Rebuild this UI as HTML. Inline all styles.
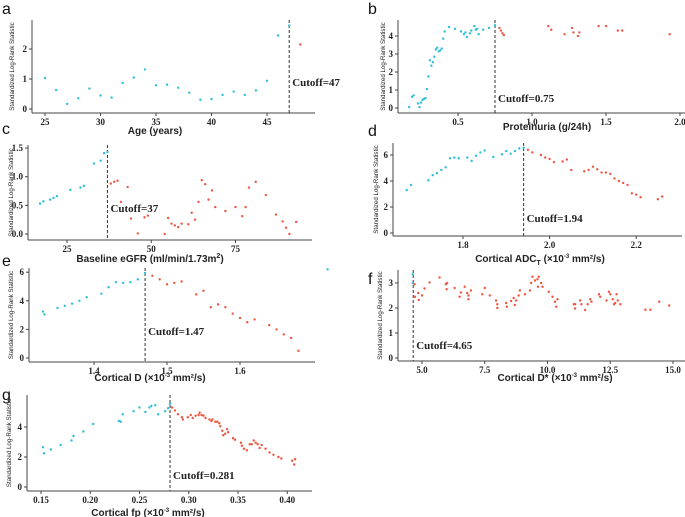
<!DOCTYPE html>
<html><head><meta charset="utf-8"><style>
body{margin:0;background:#fff;width:685px;height:517px;overflow:hidden}
svg{display:block}
.tk{font-family:"Liberation Serif",serif;font-weight:bold;font-size:9px;fill:#222}
.xt{font-family:"Liberation Sans",sans-serif;font-weight:bold;font-size:10px;fill:#222}
.yt{font-family:"Liberation Sans",sans-serif;font-size:6.2px;fill:#222}
.co{font-family:"Liberation Serif",serif;font-weight:bold;font-size:11px;fill:#222}
.pl{font-family:"Liberation Sans",sans-serif;font-size:16px;fill:#111}
</style></head><body>
<svg id="chart" width="685" height="517"></svg>
<script>
// Panel a
const aBlueX=[25,26,27,28,29,30,31,32,33,34,35,36,37,38,39,40,41,42,43,44,45,46,47];
const aBlueY=[1.03,0.63,0.17,0.36,0.68,0.45,0.38,0.87,1.05,1.32,0.79,0.81,0.71,0.54,0.31,0.33,0.47,0.58,0.47,0.62,0.94,2.45,2.78];
const aRedX=[48];
const aRedY=[2.15];
const aXTicks=[25,30,35,40,45];
const aYTicks=[0,1,2];
// Panel b
const bBlueX=[0.17,0.19,0.2,0.23,0.24,0.25,0.26,0.27,0.28,0.29,0.30,0.31,0.32,0.33,0.34,0.35,0.36,0.37,0.38,0.39,0.40,0.41,0.44,0.48,0.52,0.54,0.55,0.56,0.58,0.59,0.61,0.62,0.63,0.64,0.67,0.71,0.75];
const bBlueY=[0.05,0.62,0.7,0.25,0.05,0.3,0.45,0.5,0.55,1.05,1.75,2.65,2.35,2.55,2.85,3.25,3.35,3.15,3.2,3.3,3.85,4.25,4.5,4.4,4.25,4.1,4.2,3.95,4.15,4.3,4.55,4.35,4.4,4.1,4.35,4.45,4.6];
const bRedX=[0.78,0.79,0.8,0.81,1.11,1.13,1.22,1.27,1.28,1.31,1.32,1.45,1.5,1.58,1.61,1.93];
const bRedY=[4.45,4.3,4.15,4.05,4.55,4.35,4.1,4.45,4.2,4.0,4.2,4.55,4.55,4.3,4.3,4.1];
const bXTicks=[0.5,1.0,1.5,2.0];
const bYTicks=[0,1,2,3,4];
// Panel c
const cBlueX=[17,18,20,21,22,26,29,30,33,35,36,37];
const cBlueY=[0.53,0.57,0.6,0.63,0.66,0.77,0.81,0.84,1.23,1.28,1.41,1.43];
const cRedX=[38,39,40,41,43,44,46,48,49,54,55,56,57,58,59,61,62,63,64,65,66,67,68,69,72,75,77,78,79,81,84,87,89,90,91,93];
const cRedY=[0.88,0.91,0.93,0.56,0.82,0.27,0.01,0.29,0.32,0.0,0.28,0.18,0.15,0.12,0.18,0.17,0.37,0.25,0.56,0.94,0.87,0.6,0.76,0.47,0.4,0.47,0.31,0.47,0.81,0.91,0.68,0.34,0.22,0.11,0.0,0.21];
const cXTicks=[25,50,75];
const cYTicks=[0,0.5,1.0,1.5];
// Panel d
const dBlueX=[1.67,1.68,1.72,1.73,1.74,1.75,1.76,1.77,1.78,1.79,1.81,1.82,1.83,1.84,1.85,1.87,1.89,1.9,1.91,1.92,1.93,1.94];
const dBlueY=[3.3,3.7,4.05,4.45,4.6,4.85,5.05,5.75,5.8,5.75,5.8,5.55,5.95,6.2,6.35,5.85,6.05,6.3,6.1,6.3,6.5,6.55];
const dRedX=[1.95,1.96,1.98,1.99,2.0,2.01,2.03,2.04,2.05,2.08,2.09,2.1,2.11,2.12,2.13,2.14,2.15,2.16,2.17,2.18,2.19,2.2,2.21,2.25,2.26];
const dRedY=[6.4,6.2,6.0,5.8,5.7,5.45,5.5,5.65,4.85,4.75,4.85,5.1,4.9,4.65,4.65,4.55,4.2,4.0,3.85,3.7,3.05,2.95,2.75,2.6,2.8];
const dXTicks=[1.8,2.0,2.2];
const dYTicks=[0,2,4,6];
// Panel e
const eBlueX=[1.33,1.332,1.35,1.36,1.37,1.38,1.39,1.41,1.42,1.43,1.44,1.45,1.46,1.47,1.72];
const eBlueY=[3.25,3.05,3.5,3.65,3.8,4.0,4.25,4.5,4.95,5.3,5.25,5.3,5.5,5.95,6.2];
const eRedX=[1.48,1.49,1.5,1.51,1.52,1.54,1.55,1.56,1.57,1.58,1.59,1.6,1.61,1.62,1.64,1.65,1.66,1.67,1.68];
const eRedY=[5.75,5.5,5.15,5.25,5.35,4.45,4.7,3.55,3.75,3.55,3.1,2.8,2.5,2.7,2.3,2.0,1.65,1.4,0.5];
const eXTicks=[1.4,1.5,1.6];
const eYTicks=[0,2,4,6];
// Panel f
const fBlueX=[4.63,4.63];
const fBlueY=[3.35,3.0];
const fRedX=[4.7,4.72,4.85,4.87,5.0,5.1,5.3,5.7,5.95,6.0,5.98,6.3,6.5,6.55,6.7,6.8,6.85,6.85,6.95,7.4,7.5,7.7,7.95,8.0,8.0,8.35,8.38,8.55,8.65,8.7,8.75,8.85,8.9,9.1,9.3,9.35,9.4,9.5,9.6,9.65,9.62,9.75,9.8,10.05,10.2,10.3,10.35,10.4,11.05,11.1,11.1,11.3,11.35,11.5,11.6,11.7,11.75,12.05,12.1,12.35,12.45,12.5,12.6,12.65,12.7,12.75,12.8,12.9,13.9,14.1,14.45,14.85];
const fRedY=[2.95,2.45,2.6,2.32,2.5,2.78,3.02,3.22,2.95,3.0,2.75,2.8,2.45,2.62,2.85,2.6,2.5,2.35,2.7,2.55,2.8,2.5,2.3,2.15,2.0,2.2,2.05,2.28,2.4,2.12,2.3,2.5,2.7,2.55,2.7,3.0,3.25,3.1,3.15,3.25,2.85,3.0,2.85,2.65,2.45,2.25,2.05,2.35,2.15,2.15,1.98,2.3,2.15,1.92,2.15,2.35,2.25,2.55,2.45,2.3,2.65,2.55,2.35,2.15,2.2,2.55,2.3,2.15,1.93,1.93,2.25,2.1];
const fXTicks=[5.0,7.5,10.0,12.5,15.0];
const fYTicks=[0,1,2,3];
// Panel g
const gBlueX=[0.152,0.153,0.16,0.17,0.181,0.183,0.193,0.203,0.229,0.231,0.233,0.244,0.25,0.256,0.26,0.262,0.266,0.269,0.276,0.279,0.281];
const gBlueY=[2.65,2.25,2.5,2.8,3.1,3.4,3.7,4.2,4.4,4.35,4.85,5.05,5.3,5.0,5.3,5.4,5.45,4.85,5.05,5.25,5.55];
const gRedX=[0.283,0.286,0.289,0.293,0.294,0.299,0.302,0.304,0.307,0.31,0.311,0.313,0.315,0.317,0.321,0.323,0.324,0.327,0.329,0.331,0.332,0.334,0.335,0.337,0.339,0.34,0.345,0.347,0.353,0.354,0.356,0.359,0.362,0.364,0.366,0.368,0.37,0.372,0.374,0.378,0.382,0.386,0.391,0.394,0.405,0.407,0.408];
const gRedY=[5.3,5.1,4.85,4.65,4.5,4.65,4.8,4.6,4.75,4.8,4.95,4.8,4.75,4.6,4.5,4.4,4.5,4.35,4.35,4.25,4.05,3.75,3.45,3.55,3.85,3.65,3.25,3.15,2.95,2.75,2.55,2.45,2.85,2.85,3.1,2.95,2.85,2.6,2.8,2.55,2.3,2.15,2.0,1.9,1.75,1.5,1.85];
const gXTicks=[0.15,0.20,0.25,0.30,0.35,0.40];
const gYTicks=[0,2,4];

const svg=document.getElementById('chart');
const NS='http://www.w3.org/2000/svg';
function mk(tag,attrs,parent,txt){const e=document.createElementNS(NS,tag);for(const k in attrs)e.setAttribute(k,attrs[k]);if(txt!==undefined)e.textContent=txt;(parent||svg).appendChild(e);return e;}

function panel(p){
  const g=mk('g',{});
  
  
  const sx=v=>p.x0px+(v-p.x0v)*p.xs;
  const sy=v=>p.y0px-(v-p.y0v)*p.ys;
  const lbl=mk('text',{x:p.lx,y:p.ly,class:'pl'},g,p.id);
  
  
  const ya=mk('line',{x1:p.ax,y1:p.top,x2:p.ax,y2:p.ay,stroke:'#444','stroke-width':1},g);
  
  
  const xa=mk('line',{x1:p.ax,y1:p.ay,x2:p.right,y2:p.ay,stroke:'#444','stroke-width':1},g);
  
  
  p.xt.forEach(v=>{const x=sx(v);
    mk('line',{x1:x,y1:p.ay,x2:x,y2:p.ay+3,stroke:'#444'},g);
    const t=mk('text',{x:x,y:p.ay+12,class:'tk','text-anchor':'middle'},g,v.toFixed(p.xd));
    
    });
  p.yt.forEach(v=>{const y=sy(v);
    mk('line',{x1:p.ax-3,y1:y,x2:p.ax,y2:y,stroke:'#444'},g);
    const t=mk('text',{x:p.ax-5,y:y+3,class:'tk','text-anchor':'end'},g,v.toFixed(p.yd));
    
    });
  const cx=sx(p.cut);
  const cl=mk('line',{x1:cx,y1:p.top,x2:cx,y2:p.ay,stroke:'#333','stroke-width':1,'stroke-dasharray':'3,2'},g);
  
  
  const ct=mk('text',{x:cx+3,y:p.cy,class:'co'},g,'Cutoff='+p.cutTxt);
  
  
  p.bx.forEach((v,i)=>{const c=mk('circle',{cx:sx(v),cy:sy(p.by[i]),r:1.2,fill:'#2bbfd8'},g);
    
    });
  p.rx.forEach((v,i)=>{const c=mk('circle',{cx:sx(v),cy:sy(p.ry[i]),r:1.2,fill:'#f0553f'},g);
    
    });
  const xt=mk('text',{x:p.tx,y:p.ty,class:'xt','text-anchor':'middle'},g);
  xt.innerHTML=p.title;
  
  
  const ym=(p.top+p.ay)/2;
  const yt=mk('text',{x:p.ax-p.ytOff,y:ym,class:'yt','text-anchor':'middle',transform:`rotate(-90 ${p.ax-p.ytOff} ${ym})`},g,'Standardized Log-Rank Statistic');
  
  
}
panel({id:'a',lx:2,ly:14,ax:32,ay:113,top:20,right:315,x0v:25,x0px:45,xs:11.1,y0v:0,y0px:109,ys:30,xt:aXTicks,yt:aYTicks,xd:0,yd:0,cut:47,cutTxt:'47',cy:86,bx:aBlueX,by:aBlueY,rx:aRedX,ry:aRedY,tx:155,ty:134,title:'Age (years)',ytOff:18});
panel({id:'b',lx:368,ly:14,ax:398,ay:113,top:20,right:685,x0v:0.5,x0px:458,xs:148,y0v:0,y0px:108,ys:18,xt:bXTicks,yt:bYTicks,xd:1,yd:0,cut:0.75,cutTxt:'0.75',cy:102,bx:bBlueX,by:bBlueY,rx:bRedX,ry:bRedY,tx:547,ty:130,title:'Proteinuria (g/24h)',ytOff:13});
panel({id:'c',lx:2,ly:134,ax:28,ay:240,top:145,right:312,x0v:25,x0px:67,xs:3.37,y0v:0,y0px:234,ys:57.3,xt:cXTicks,yt:cYTicks,xd:0,yd:1,cut:37,cutTxt:'37',cy:212,bx:cBlueX,by:cBlueY,rx:cRedX,ry:cRedY,tx:150,ty:262,title:'Baseline eGFR (ml/min/1.73m<tspan font-size="7" dy="-4">2</tspan><tspan dy="4">)</tspan>',ytOff:15});
panel({id:'d',lx:368,ly:136,ax:393,ay:236,top:143,right:682,x0v:1.8,x0px:463,xs:433,y0v:0,y0px:233,ys:13,xt:dXTicks,yt:dYTicks,xd:1,yd:0,cut:1.94,cutTxt:'1.94',cy:222,bx:dBlueX,by:dBlueY,rx:dRedX,ry:dRedY,tx:540,ty:262,title:'Cortical ADC<tspan font-size="7" dy="3">T</tspan><tspan dy="-3"> (×10</tspan><tspan font-size="6" dy="-4">-3</tspan><tspan dy="4"> mm²/s)</tspan>',ytOff:15});
panel({id:'e',lx:2,ly:266,ax:29,ay:362,top:268,right:315,x0v:1.4,x0px:94,xs:730,y0v:0,y0px:358,ys:14.3,xt:eXTicks,yt:eYTicks,xd:1,yd:0,cut:1.47,cutTxt:'1.47',cy:335,bx:eBlueX,by:eBlueY,rx:eRedX,ry:eRedY,tx:150,ty:381,title:'Cortical D (×10<tspan font-size="6" dy="-4">-3</tspan><tspan dy="4"> mm²/s)</tspan>',ytOff:16});
panel({id:'f',lx:368,ly:284,ax:398,ay:361,top:270,right:685,x0v:5,x0px:422,xs:25.1,y0v:0,y0px:358,ys:25,xt:fXTicks,yt:fYTicks,xd:1,yd:0,cut:4.65,cutTxt:'4.65',cy:349,bx:fBlueX,by:fBlueY,rx:fRedX,ry:fRedY,tx:555,ty:381,title:'Cortical D* (×10<tspan font-size="6" dy="-4">-3</tspan><tspan dy="4"> mm²/s)</tspan>',ytOff:16});
panel({id:'g',lx:2,ly:400,ax:27,ay:491,top:395,right:312,x0v:0.15,x0px:41,xs:985,y0v:0,y0px:487,ys:15,xt:gXTicks,yt:gYTicks,xd:2,yd:0,cut:0.281,cutTxt:'0.281',cy:479,bx:gBlueX,by:gBlueY,rx:gRedX,ry:gRedY,tx:148,ty:516,title:'Cortical fp (×10<tspan font-size="6" dy="-4">-3</tspan><tspan dy="4"> mm²/s)</tspan>',ytOff:16});
</script>
</body></html>
